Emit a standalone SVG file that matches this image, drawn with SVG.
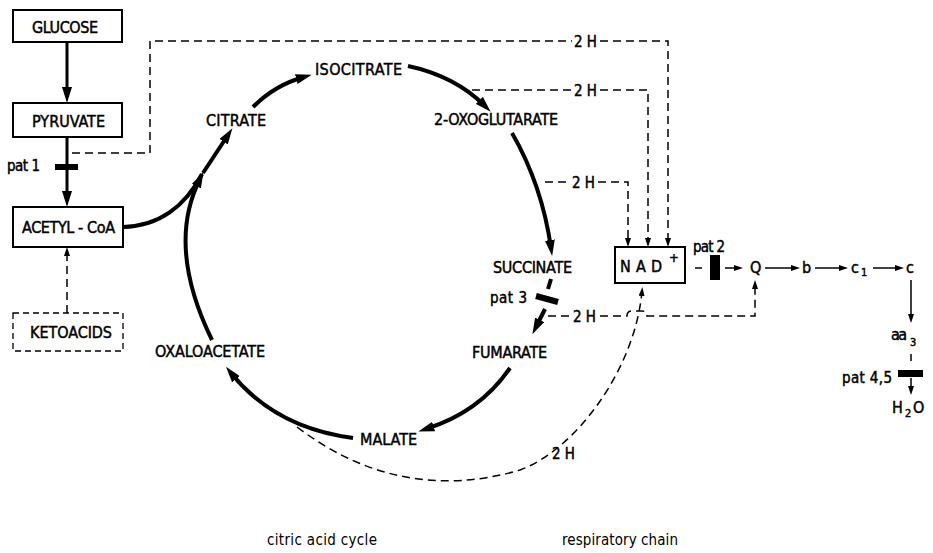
<svg xmlns="http://www.w3.org/2000/svg" width="933" height="553" viewBox="0 0 933 553">
<defs>
<style>
.t{font-family:"Liberation Sans Narrow","DejaVu Sans Condensed","Liberation Sans",sans-serif;font-size:16px;fill:#000;stroke:#000;stroke-width:0.45}
.s{font-size:15px}
.sub{font-size:11px}
.cap{stroke-width:0}
.box{fill:#fff;stroke:#000;stroke-width:2}
.dbox{fill:#fff;stroke:#000;stroke-width:1.3;stroke-dasharray:6 4}
.thick{fill:none;stroke:#000;stroke-width:4}
.med{fill:none;stroke:#000;stroke-width:3}
.dash{fill:none;stroke:#000;stroke-width:1.5;stroke-dasharray:8 5}
.thin{fill:none;stroke:#000;stroke-width:1.5}
</style>
<marker id="ah" markerUnits="userSpaceOnUse" markerWidth="16" markerHeight="10" refX="8" refY="5" orient="auto" viewBox="0 0 16 10"><path d="M0,0 L16,5 L0,10 z" fill="#000"/></marker>
<marker id="as" markerUnits="userSpaceOnUse" markerWidth="9" markerHeight="6" refX="5" refY="3" orient="auto" viewBox="0 0 9 6"><path d="M0,0 L9,3 L0,6 z" fill="#000"/></marker>
</defs>
<rect width="933" height="553" fill="#fff"/>

<g id="connectors">
  <path class="med" d="M67,42 V95" marker-end="url(#ah)"/>
  <path class="med" d="M67,137 V164"/>
  <rect x="55" y="164" width="23" height="6" fill="#000"/>
  <path class="med" d="M67,170 V199" marker-end="url(#ah)"/>
  <path class="dash" d="M67,313 V251" marker-end="url(#as)"/>
  <path class="thick" d="M123,227 C160,226 186,205 202,174"/>
  <path class="thick" d="M212,340 Q166,246 200,179" marker-end="url(#ah)"/>
  <path class="thick" d="M203,173 L228,135" marker-end="url(#ah)"/>
  <path class="thick" d="M253,107 Q275,85 304,77" marker-end="url(#ah)"/>
  <path class="thick" d="M408,66 Q455,76 485,106" marker-end="url(#ah)"/>
  <path class="thick" d="M512,133 Q542,185 551,248" marker-end="url(#ah)"/>
  <path class="thick" d="M551,279 L548,289"/>
  <path d="M536,296 L558,302" stroke="#000" stroke-width="6" fill="none"/>
  <path class="thick" d="M545,309 L536,327" marker-end="url(#ah)"/>
  <path class="thick" d="M510,368 Q480,412 426,429" marker-end="url(#ah)"/>
  <path class="thick" d="M353,438 Q275,428 231,373" marker-end="url(#ah)"/>
  <path class="dash" d="M72,153 H150 V41 H572"/>
  <path class="dash" d="M600,41 H668 V243" marker-end="url(#as)"/>
  <path class="dash" d="M472,90 H572"/>
  <path class="dash" d="M600,90 H648 V243" marker-end="url(#as)"/>
  <path class="dash" d="M545,182 H569"/>
  <path class="dash" d="M598,182 H628 V243" marker-end="url(#as)"/>
  <path class="dash" d="M548,316 H569"/>
  <path class="dash" d="M600,316 H627 Q627,311 632,311 H642 Q647,311 647,316 H755 V284" marker-end="url(#as)"/>
  <path class="dash" d="M297,427 Q400,505 520,470 C575,450 635,370 642,291" marker-end="url(#as)"/>
  <path class="thin" d="M695,268 H702"/>
  <rect x="710" y="255" width="10" height="25" fill="#000"/>
  <path class="thin" d="M725,268 H739" marker-end="url(#as)"/>
  <path class="thin" d="M765,268 H796" marker-end="url(#as)"/>
  <path class="thin" d="M815,268 H844" marker-end="url(#as)"/>
  <path class="thin" d="M873,268 H900" marker-end="url(#as)"/>
  <path class="thin" d="M911,280 V319" marker-end="url(#as)"/>
  <path class="thin" d="M911,354 V361"/>
  <rect x="898" y="370" width="25" height="7" fill="#000"/>
  <path class="thin" d="M911,378 V391" marker-end="url(#as)"/>
</g>

<g id="glucose"><rect class="box" x="13" y="10" width="109" height="32"/><text class="t" x="32" y="33" textLength="66">GLUCOSE</text></g>
<g id="pyruvate"><rect class="box" x="13" y="103" width="109" height="34"/><text class="t" x="32" y="127" textLength="73">PYRUVATE</text></g>
<g id="pat1"><text class="t s" x="7" y="171" textLength="33">pat 1</text></g>
<g id="acetylcoa"><rect class="box" x="13" y="207" width="110" height="40"/><text class="t" x="22" y="233" textLength="93">ACETYL - CoA</text></g>
<g id="ketoacids"><rect class="dbox" x="13" y="313" width="110" height="38"/><text class="t" x="30" y="338" textLength="82">KETOACIDS</text></g>
<g id="citrate"><text class="t" x="206" y="126" textLength="60">CITRATE</text></g>
<g id="isocitrate"><text class="t" x="315" y="75" textLength="87">ISOCITRATE</text></g>
<g id="oxoglutarate"><text class="t" x="434" y="125" textLength="124">2-OXOGLUTARATE</text></g>
<g id="succinate"><text class="t" x="493" y="273" textLength="79">SUCCINATE</text></g>
<g id="pat3"><text class="t s" x="490" y="303" textLength="37">pat 3</text></g>
<g id="fumarate"><text class="t" x="472" y="358" textLength="75">FUMARATE</text></g>
<g id="malate"><text class="t" x="360" y="445" textLength="57">MALATE</text></g>
<g id="oxaloacetate"><text class="t" x="155" y="357" textLength="110">OXALOACETATE</text></g>
<g id="h-labels">
  <text class="t s" x="574" y="47">2 H</text>
  <text class="t s" x="574" y="96">2 H</text>
  <text class="t s" x="572" y="188">2 H</text>
  <text class="t s" x="573" y="322">2 H</text>
  <text class="t s" x="552" y="459">2 H</text>
</g>
<g id="nad"><rect class="box" x="615" y="247" width="70" height="36"/><text class="t" x="620" y="272" textLength="42">NAD</text><text class="t" x="669" y="262" style="font-size:13px">+</text></g>
<g id="pat2"><text class="t s" x="693" y="252" textLength="32">pat 2</text></g>
<g id="q"><text class="t" x="750" y="273">Q</text></g>
<g id="b"><text class="t" x="802" y="273">b</text></g>
<g id="c1"><text class="t" x="851" y="273">c</text><text class="t sub" x="861" y="276">1</text></g>
<g id="c"><text class="t" x="906" y="273">c</text></g>
<g id="aa3"><text class="t" x="891" y="340" textLength="16">aa</text><text class="t sub" x="910" y="346">3</text></g>
<g id="pat45"><text class="t s" x="842" y="383" textLength="50">pat 4,5</text></g>
<g id="h2o"><text class="t" x="892" y="413">H</text><text class="t sub" x="905" y="417">2</text><text class="t" x="913" y="413">O</text></g>
<g id="captions">
  <text class="t s cap" x="267" y="545" textLength="110">citric acid cycle</text>
  <text class="t s cap" x="562" y="545" textLength="116">respiratory chain</text>
</g>
</svg>
